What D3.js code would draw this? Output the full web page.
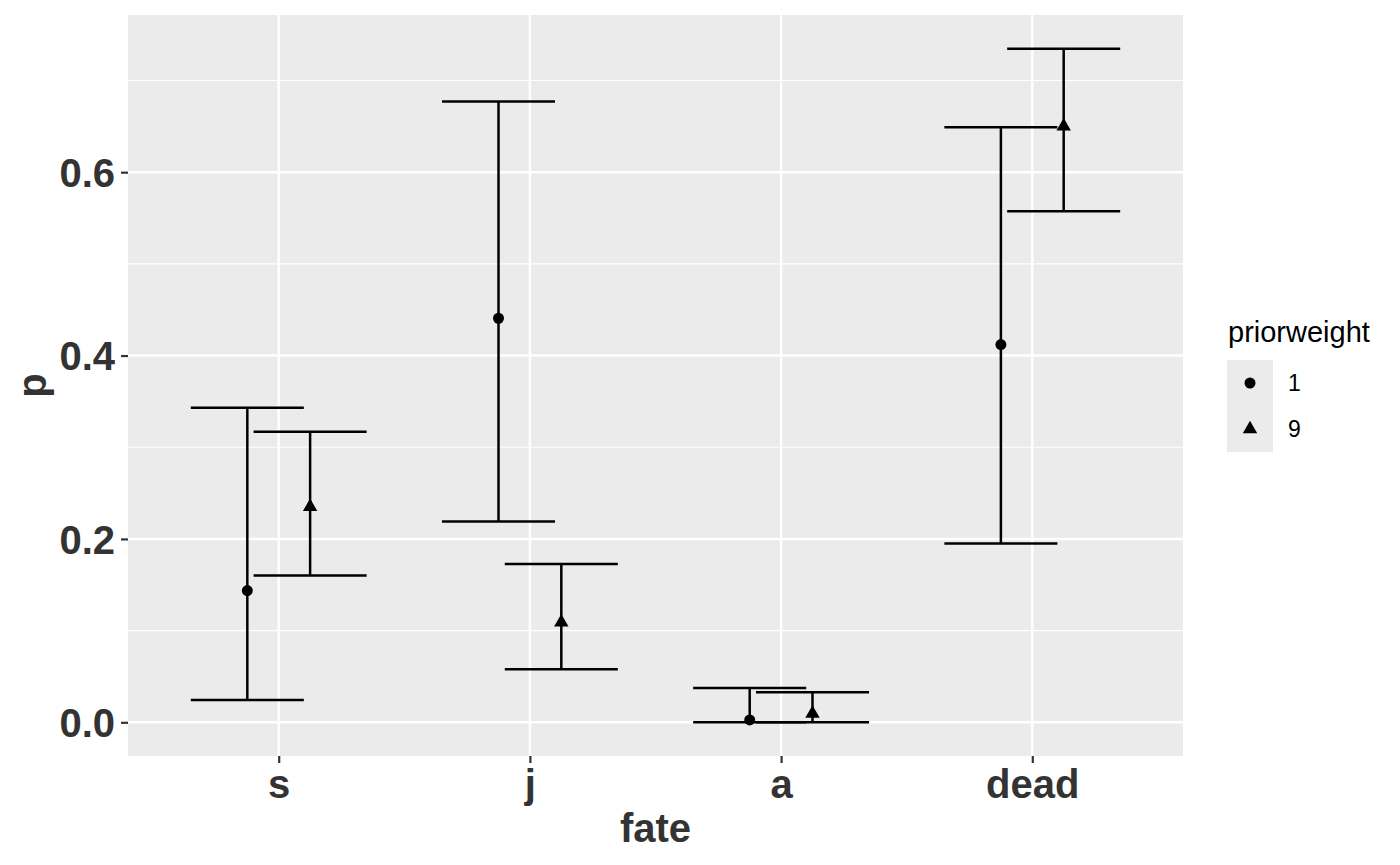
<!DOCTYPE html>
<html>
<head>
<meta charset="utf-8">
<script src="https://cdn.jsdelivr.net/npm/d3@7"></script>
<style>
  body { margin: 0; background: #fff; }
  svg { display: block; }
</style>
</head>
<body>
<svg id="chart" width="1400" height="865"></svg>
<script>
// ---- data ----
const categories = ["s", "j", "a", "dead"];
const priorWeights = ["1", "9"];
const p1     = [0.1437, 0.4407, 0.0026, 0.412];
const lower1 = [0.0244, 0.219,  0.0,    0.195];
const upper1 = [0.343,  0.677,  0.0375, 0.649];
const p9     = [0.235,  0.109,  0.0095, 0.650];
const lower9 = [0.160,  0.0578, 0.0,    0.5575];
const upper9 = [0.317,  0.1728, 0.0327, 0.7347];
const yTicks = [0.0, 0.2, 0.4, 0.6];
const yMinor = [0.1, 0.3, 0.5, 0.7];

const rows = [];
categories.forEach((c, i) => {
  rows.push({fate: c, w: "1", p: p1[i], lo: lower1[i], hi: upper1[i]});
  rows.push({fate: c, w: "9", p: p9[i], lo: lower9[i], hi: upper9[i]});
});

// ---- layout ----
const panel = {left: 128, right: 1183, top: 15, bottom: 756};
const font = "'Liberation Sans', Arial, Helvetica, sans-serif";
const svg = d3.select("#chart");

const x = d3.scalePoint().domain(categories).range([panel.left, panel.right]).padding(0.6);
const step = x.step();
const dodge = d3.scalePoint().domain(priorWeights).range([-0.125 * step, 0.125 * step]);
const capHalf = 0.225 * step;

const yMax = d3.max(rows, d => d.hi), yMinV = d3.min(rows, d => d.lo);
const pad = (yMax - yMinV) * 0.05;
const y = d3.scaleLinear().domain([yMinV - pad, yMax + pad]).range([panel.bottom, panel.top]);

// panel background
svg.append("rect")
  .attr("x", panel.left).attr("y", panel.top)
  .attr("width", panel.right - panel.left).attr("height", panel.bottom - panel.top)
  .attr("fill", "#EBEBEB");

// grid
const grid = svg.append("g");
grid.selectAll(".minor").data(yMinor).enter().append("line")
  .attr("x1", panel.left).attr("x2", panel.right)
  .attr("y1", d => y(d)).attr("y2", d => y(d))
  .attr("stroke", "#fff").attr("stroke-width", 1.2);
grid.selectAll(".major").data(yTicks).enter().append("line")
  .attr("x1", panel.left).attr("x2", panel.right)
  .attr("y1", d => y(d)).attr("y2", d => y(d))
  .attr("stroke", "#fff").attr("stroke-width", 2.4);
grid.selectAll(".vmajor").data(categories).enter().append("line")
  .attr("y1", panel.top).attr("y2", panel.bottom)
  .attr("x1", d => x(d)).attr("x2", d => x(d))
  .attr("stroke", "#fff").attr("stroke-width", 2.4);

// axes
const yAxis = d3.axisLeft(y).tickValues(yTicks).tickFormat(d3.format(".1f")).tickSize(7).tickPadding(6);
const gy = svg.append("g").attr("transform", `translate(${panel.left},0)`).call(yAxis);
const xAxis = d3.axisBottom(x).tickSize(7).tickPadding(6);
const gx = svg.append("g").attr("transform", `translate(0,${panel.bottom})`).call(xAxis);
[gy, gx].forEach(g => {
  g.select(".domain").remove();
  g.selectAll(".tick line").attr("stroke", "#333").attr("stroke-width", 2.2);
  g.selectAll(".tick text")
    .attr("fill", "#333").style("font-family", font)
    .style("font-size", "40px").style("font-weight", "bold");
});
gy.selectAll(".tick text").attr("dy", "0.36em");
gx.selectAll(".tick text").attr("dy", "0").attr("y", 42);

// axis titles
svg.append("text")
  .attr("x", (panel.left + panel.right) / 2).attr("y", 842)
  .attr("text-anchor", "middle")
  .style("font-family", font).style("font-size", "40px").style("font-weight", "bold")
  .attr("fill", "#333").text("fate");
svg.append("text")
  .attr("transform", `translate(46,${(panel.top + panel.bottom) / 2}) rotate(-90)`)
  .attr("text-anchor", "middle")
  .style("font-family", font).style("font-size", "40px").style("font-weight", "bold")
  .attr("fill", "#333").text("p");

// error bars
const eb = svg.append("g").attr("stroke", "#000").attr("stroke-width", 2.5).attr("fill", "none");
rows.forEach(d => {
  const cx = x(d.fate) + dodge(d.w);
  eb.append("line").attr("x1", cx).attr("x2", cx).attr("y1", y(d.lo)).attr("y2", y(d.hi));
  eb.append("line").attr("x1", cx - capHalf).attr("x2", cx + capHalf).attr("y1", y(d.lo)).attr("y2", y(d.lo));
  eb.append("line").attr("x1", cx - capHalf).attr("x2", cx + capHalf).attr("y1", y(d.hi)).attr("y2", y(d.hi));
});

// points
const shape = d3.scaleOrdinal().domain(priorWeights).range([
  d3.symbol().type(d3.symbolCircle).size(95),
  d3.symbol().type(d3.symbolTriangle).size(90)
]);
svg.append("g").selectAll("path").data(rows).enter().append("path")
  .attr("d", d => shape(d.w)())
  .attr("transform", d => `translate(${x(d.fate) + dodge(d.w)},${y(d.p)})`)
  .attr("fill", "#000");

// legend
const lg = svg.append("g");
lg.append("text").attr("x", 1228).attr("y", 342)
  .style("font-family", font).style("font-size", "29px").attr("fill", "#000").text("priorweight");
lg.append("rect").attr("x", 1227).attr("y", 360).attr("width", 46).attr("height", 92).attr("fill", "#EBEBEB");
priorWeights.forEach((w, i) => {
  const cy = 383 + i * 46;
  lg.append("path").attr("d", shape(w)()).attr("transform", `translate(1250,${cy})`).attr("fill", "#000");
  lg.append("text").attr("x", 1288).attr("y", cy).attr("dy", "0.36em")
    .style("font-family", font).style("font-size", "23px").attr("fill", "#000").text(w);
});
</script>
</body>
</html>
